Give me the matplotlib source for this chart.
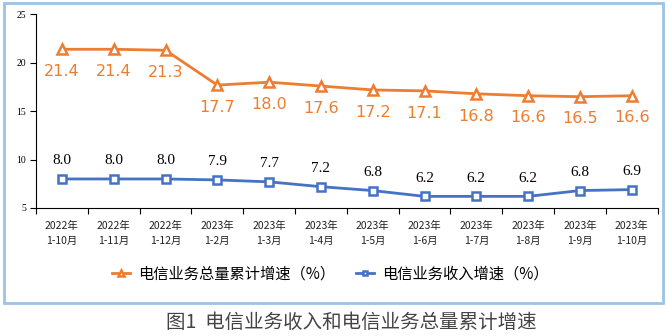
import numpy as np
import matplotlib.pyplot as plt
import matplotlib as mpl
from matplotlib.patches import Rectangle

plt.rcParams['font.family'] = ['Noto Sans CJK SC', 'DejaVu Sans']

# data
months = ["2022年\n1-10月", "2022年\n1-11月", "2022年\n1-12月", "2023年\n1-2月",
          "2023年\n1-3月", "2023年\n1-4月", "2023年\n1-5月", "2023年\n1-6月",
          "2023年\n1-7月", "2023年\n1-8月", "2023年\n1-9月", "2023年\n1-10月"]
volume_growth = [21.4, 21.4, 21.3, 17.7, 18.0, 17.6, 17.2, 17.1, 16.8, 16.6, 16.5, 16.6]
revenue_growth = [8.0, 8.0, 8.0, 7.9, 7.7, 7.2, 6.8, 6.2, 6.2, 6.2, 6.8, 6.9]
yticks = [5, 10, 15, 20, 25]

orange = "#ED7D31"
blue = "#4472C4"

fig = plt.figure(figsize=(6.67, 3.36), dpi=100)
ax = fig.add_axes([0.054, 0.381, 0.932, 0.576])

x = np.arange(len(months))
ax.plot(x, volume_growth, color=orange, lw=2, marker="^", ms=7,
        mfc="white", mec=orange, mew=1.8, label="电信业务总量累计增速（%）")
ax.plot(x, revenue_growth, color=blue, lw=2, marker="s", ms=5.5,
        mfc="white", mec=blue, mew=1.8, label="电信业务收入增速（%）")

for xi, v in zip(x, volume_growth):
    ax.annotate(f"{v:.1f}", (xi, v), xytext=(0, -16), textcoords="offset points",
                ha="center", va="center", color=orange, fontsize=11.5,
                family="DejaVu Sans")
for xi, v in zip(x, revenue_growth):
    ax.annotate(f"{v:.1f}", (xi, v), xytext=(0, 13), textcoords="offset points",
                ha="center", va="center", color="black", fontsize=11,
                family="Liberation Serif")

ax.set_xlim(-0.5, len(months) - 0.5)
ax.set_ylim(5, 25)
ax.set_yticks(yticks)
ax.set_yticklabels([str(t) for t in yticks], family="Liberation Serif", fontsize=7)
ax.set_xticks(np.arange(len(months) + 1) - 0.5)
ax.set_xticklabels([])
ax.set_xticks(x, minor=True)
ax.set_xticklabels(months, minor=True, fontsize=7.5, color="#222222", linespacing=1.7)
ax.tick_params(axis="x", which="minor", length=0, pad=9)
ax.tick_params(axis="x", which="major", length=4, direction="out")
ax.tick_params(axis="y", length=4, direction="out", pad=3)
for s in ["top", "right"]:
    ax.spines[s].set_visible(False)
ax.spines["left"].set_color("black")
ax.spines["bottom"].set_color("black")

fig.legend(loc="center", bbox_to_anchor=(0.495, 0.185), ncol=2, frameon=False,
           fontsize=11, handlelength=1.2, columnspacing=1.4, handletextpad=0.5,
           markerscale=0.65)

# outer frame
fig.patches.append(Rectangle((0.006, 0.098), 0.988, 0.893, transform=fig.transFigure,
                             fill=False, ec="#9DC3E6", lw=2))

fig.text(0.526, 0.039, "图1  电信业务收入和电信业务总量累计增速", ha="center", va="center",
         fontsize=14, color="#444444")

plt.savefig("out.png", dpi=100)
